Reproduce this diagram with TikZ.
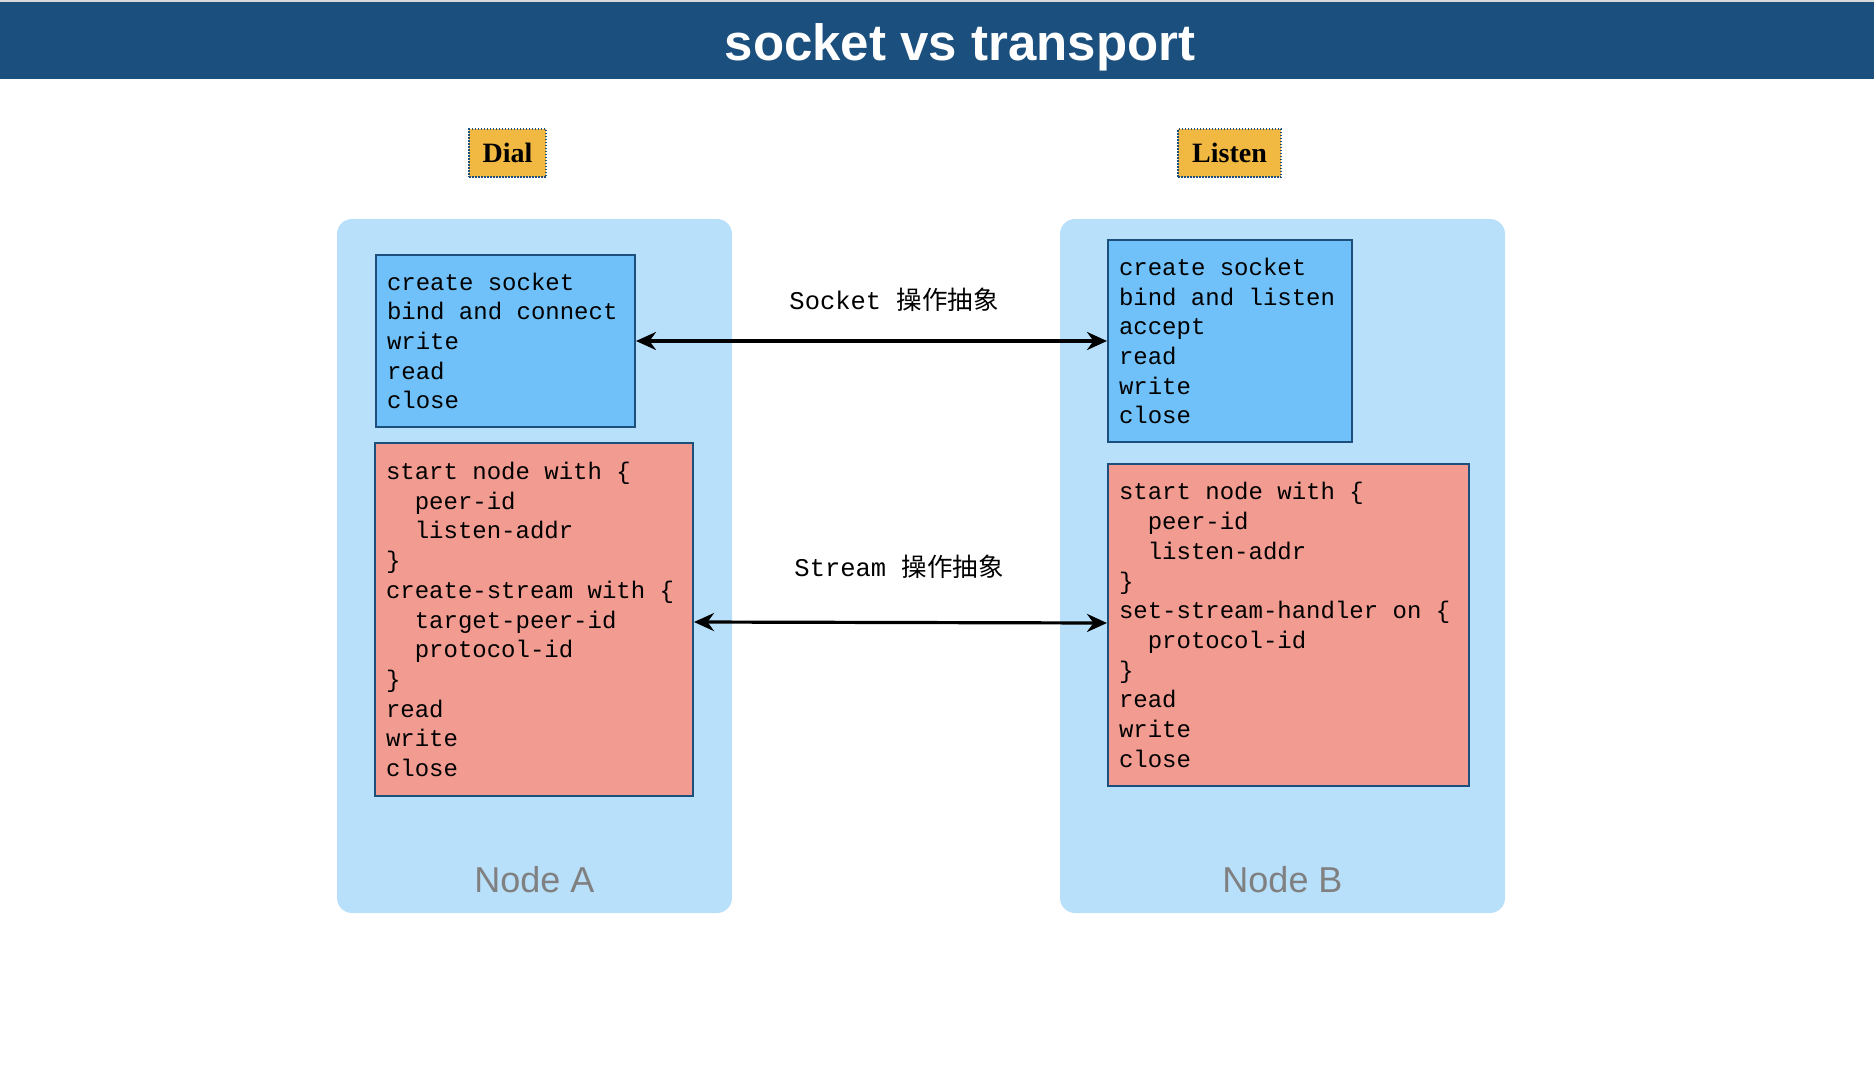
\documentclass[tikz,border=0pt]{standalone}
\usepackage{fontspec}
\setmainfont{Liberation Serif}
\setsansfont{Liberation Sans}
\setmonofont{Liberation Mono}
\newfontfamily\cjkfont{Noto Sans CJK SC}
\usepackage{xcolor}
\usepackage{tikz}
\usetikzlibrary{arrows.meta,positioning}
\definecolor{band}{HTML}{1B4F7E}
\definecolor{panel}{HTML}{B8E0FB}
\definecolor{sockblue}{HTML}{70C1F9}
\definecolor{streamred}{HTML}{F29C91}
\definecolor{edge}{HTML}{1D4F7C}
\definecolor{tag}{HTML}{F2B942}
\definecolor{caption}{HTML}{808080}
\newcommand{\codeind}{\phantom{xx}}
\newcommand{\codefont}{\ttfamily\fontsize{12}{14.85}\selectfont}
\newcommand{\fixspace}{\spaceskip 7.2pt\xspaceskip 7.2pt\relax}
\newcommand{\opfont}{\ttfamily\fontsize{12.75}{15}\selectfont}

\begin{document}
\begin{tikzpicture}[x=0.5pt,y=-0.5pt,
  panelbox/.style={fill=panel, rounded corners=7.5pt, minimum height=347pt},
  codebox/.style={draw=edge, line width=1pt, text width=#1, align=left, inner xsep=5.5pt, font=\codefont, execute at begin node=\fixspace},
  tagbox/.style={draw=edge, fill=tag, line width=0.75pt, dash pattern=on 0.75pt off 0.75pt, minimum height=24pt, font=\bfseries\fontsize{14}{16}\selectfont},
  opline/.style={{Stealth[length=10pt,width=9pt]}-{Stealth[length=10pt,width=9pt]}, line width=1.6pt},
  oplabel/.style={anchor=base, font=\opfont},
  capstyle/.style={anchor=base, text=caption, font=\sffamily\fontsize{18}{20}\selectfont}]
  \useasboundingbox (0,0) rectangle (1874,1082);
  % title band
  \fill[gray!30] (0,0) rectangle (1874,2);
  \fill[band] (0,2) rectangle (1874,79);
  \node[anchor=base, text=white, font=\sffamily\bfseries\fontsize{25.5}{30}\selectfont] (title) at (960,60) {socket vs transport};

  % roles
  \node[tagbox, minimum width=38.5pt] (dial) at (507.5,153) {Dial};
  \node[tagbox, minimum width=51.5pt] (listen) at (1229.5,153) {Listen};

  % node panels
  \node[panelbox, minimum width=197.5pt] (nodeA) at (534.5,566) {};
  \node[panelbox, minimum width=222.5pt] (nodeB) at (1282.5,566) {};
  \node[capstyle] (capA) at (534.5,892) {Node A};
  \node[capstyle] (capB) at (1282.5,892) {Node B};

  % socket side
  \node[codebox=118.5pt, fill=sockblue, minimum height=86pt] (sockA) at (505.5,341) {create socket\\bind and connect\\write\\read\\close};
  \node[codebox=111pt, fill=sockblue, minimum height=101pt] (sockB) at (1230,341) {create socket\\bind and listen\\accept\\read\\write\\close};

  % stream side
  \node[codebox=148pt, fill=streamred, minimum height=176.5pt] (strmA) at (534,619.5) {start node with \{\\\codeind peer-id\\\codeind listen-addr\\\}\\create-stream with \{\\\codeind target-peer-id\\\codeind protocol-id\\\}\\read\\write\\close};
  \node[codebox=169.5pt, fill=streamred, minimum height=161pt] (strmB) at (1288.5,625) {start node with \{\\\codeind peer-id\\\codeind listen-addr\\\}\\set-stream-handler on \{\\\codeind protocol-id\\\}\\read\\write\\close};

  % abstractions
  \draw[opline] (sockA.east) -- (sockB.west);
  \draw[opline] ([yshift=-1.25pt]strmA.east) -- ([yshift=1pt]strmB.west);
  \node[oplabel] (socklbl) at (894,309) {Socket {\cjkfont 操作抽象}};
  \node[oplabel] (strmlbl) at (899,576) {Stream {\cjkfont 操作抽象}};
\end{tikzpicture}
\end{document}
